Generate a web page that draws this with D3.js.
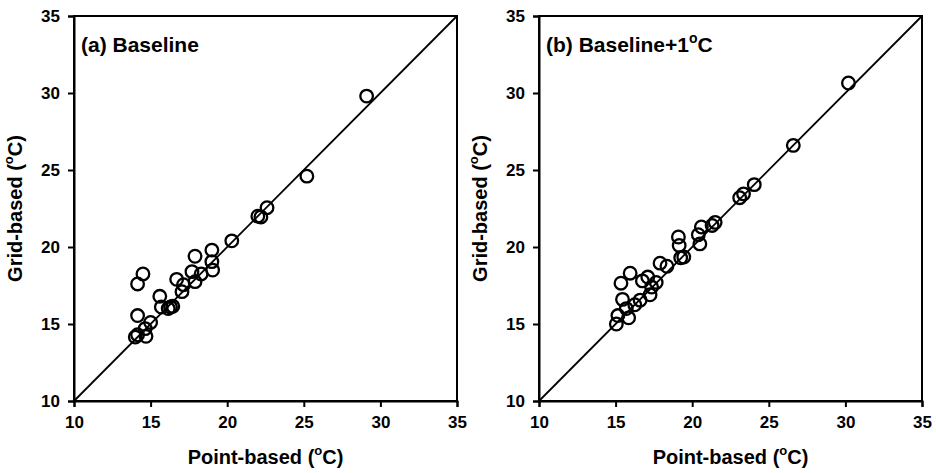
<!DOCTYPE html>
<html>
<head>
<meta charset="utf-8">
<script src="https://cdn.jsdelivr.net/npm/d3@7"></script>
<style>
  body { margin: 0; background: #fff; }
  text { font-family: Arial, "Liberation Sans", sans-serif; font-weight: bold; fill: #000; }
</style>
</head>
<body>
<svg id="chart" width="936" height="473"></svg>
<script>
// values (deg C)
var baseX = [29.1, 25.2, 22.6, 22.0, 22.2, 20.3, 19.0, 17.9, 19.0, 19.05, 17.7, 18.3, 17.9, 16.7, 17.15, 17.05,
             14.5, 14.15, 15.6, 15.7, 16.3, 16.45, 16.15, 14.15, 15.0, 14.65, 14.7, 14.0, 14.15];
var baseY = [29.8, 24.6, 22.55, 22.0, 21.95, 20.4, 19.8, 19.4, 19.05, 18.5, 18.4, 18.25, 17.75, 17.9, 17.55, 17.1,
             18.25, 17.6, 16.8, 16.1, 16.1, 16.15, 16.0, 15.55, 15.1, 14.7, 14.2, 14.15, 14.3];

var plusX = [30.2, 26.6, 24.05, 23.35, 23.1, 21.5, 20.6, 21.3, 20.4, 20.5, 19.1, 19.15, 19.45, 19.25, 17.9, 18.35,
             17.1, 16.75, 17.65, 17.35, 17.25, 16.6, 16.25, 15.95, 15.35, 15.45, 15.7, 15.85, 15.15, 15.05];
var plusY = [30.65, 26.6, 24.05, 23.45, 23.2, 21.6, 21.3, 21.4, 20.8, 20.2, 20.65, 20.1, 19.35, 19.3, 18.95, 18.75,
             18.05, 17.8, 17.7, 17.4, 16.9, 16.55, 16.25, 18.3, 17.65, 16.6, 16.0, 15.4, 15.55, 15.0];

var ticks = [10, 15, 20, 25, 30, 35];
var panels = [
  { title: "(a) Baseline", xs: baseX, ys: baseY, left: 74 },
  { title: "(b) Baseline+1", xs: plusX, ys: plusY, left: 539, deg: true }
];

var svg = d3.select("#chart");
var plotTop = 16, plotBottom = 401, plotW = 383;

panels.forEach(function (p) {
  var x = d3.scaleLinear().domain([10, 35]).range([p.left, p.left + plotW]);
  var y = d3.scaleLinear().domain([10, 35]).range([plotBottom, plotTop]);
  var g = svg.append("g");

  // frame
  g.append("rect")
    .attr("x", x(10)).attr("y", y(35))
    .attr("width", x(35) - x(10)).attr("height", y(10) - y(35))
    .attr("fill", "none").attr("stroke", "#000").attr("stroke-width", 2);

  var xa = g.append("g").attr("transform", "translate(0," + plotBottom + ")")
    .call(d3.axisBottom(x).tickValues(ticks).tickSize(6).tickPadding(9));
  var ya = g.append("g").attr("transform", "translate(" + p.left + ",0)")
    .call(d3.axisLeft(y).tickValues(ticks).tickSize(6).tickPadding(8));
  [xa, ya].forEach(function (a) {
    a.select(".domain").attr("stroke-width", 2);
    a.selectAll(".tick line").attr("stroke-width", 2);
    a.selectAll("text").style("font-size", "17px").style("font-family", "Arial, 'Liberation Sans', sans-serif").style("font-weight", "bold");
  });

  // 1:1 line
  g.append("line")
    .attr("x1", x(10)).attr("y1", y(10)).attr("x2", x(35)).attr("y2", y(35))
    .attr("stroke", "#000").attr("stroke-width", 1.8);

  g.selectAll("circle.pt")
    .data(p.xs.map(function (v, i) { return [v, p.ys[i]]; }))
    .enter().append("circle")
    .attr("class", "pt")
    .attr("cx", function (d) { return x(d[0]); })
    .attr("cy", function (d) { return y(d[1]); })
    .attr("r", 6.3)
    .attr("fill", "none").attr("stroke", "#000").attr("stroke-width", 2.3);

  // panel title
  var t = g.append("text").attr("x", p.left + 7).attr("y", 52).style("font-size", "21px").text(p.title);
  if (p.deg) {
    t.append("tspan").attr("dy", -9).style("font-size", "14px").text("o");
    t.append("tspan").attr("dy", 9).text("C");
  }

  // axis titles
  var xl = g.append("text").attr("x", p.left + plotW / 2).attr("y", 464)
    .attr("text-anchor", "middle").style("font-size", "20px").text("Point-based (");
  xl.append("tspan").attr("dy", -9).style("font-size", "13px").text("o");
  xl.append("tspan").attr("dy", 9).text("C)");

  var yl = g.append("text")
    .attr("transform", "translate(" + (p.left - 52) + "," + ((plotTop + plotBottom) / 2) + ") rotate(-90)")
    .attr("text-anchor", "middle").style("font-size", "20px").text("Grid-based (");
  yl.append("tspan").attr("dy", -9).style("font-size", "13px").text("o");
  yl.append("tspan").attr("dy", 9).text("C)");
});
</script>
</body>
</html>
